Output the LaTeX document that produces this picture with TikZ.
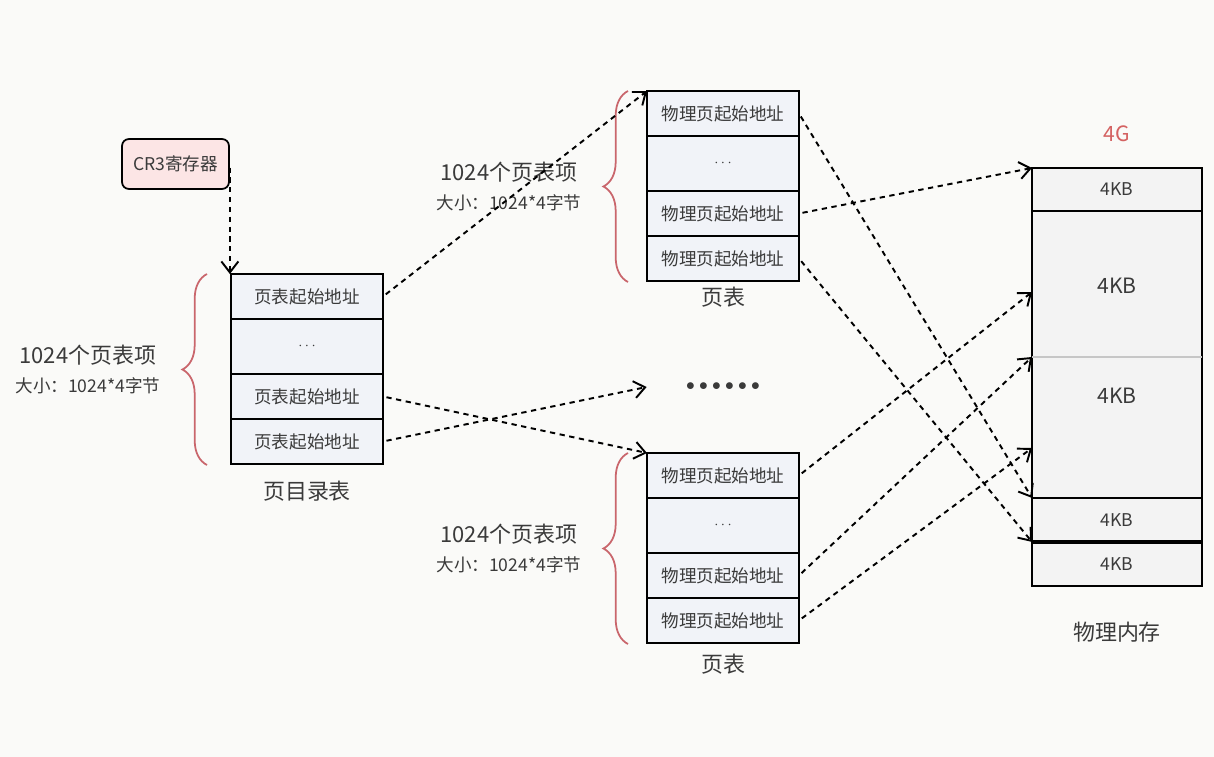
\documentclass[tikz,border=0pt]{standalone}
\usepackage{fontspec}
\setmainfont{Noto Sans CJK SC}
\usetikzlibrary{arrows.meta,positioning,decorations.pathreplacing,calc}
\definecolor{cbrace}{RGB}{201,102,108}
\definecolor{ccr}{RGB}{252,229,229}
\definecolor{crow}{RGB}{241,243,248}
\definecolor{cmem}{RGB}{243,243,243}
\definecolor{ctext}{RGB}{58,58,58}
\definecolor{cred}{RGB}{212,98,98}
\definecolor{cbg}{RGB}{250,250,248}

\begin{document}
\begin{tikzpicture}[x=0.02cm,y=-0.02cm,font=\fontsize{10}{12}\selectfont,text=ctext,
  >={Straight Barb[length=2.2mm,width=3.4mm]},
  row/.style={draw,line width=1pt,fill=crow,minimum width=3.04cm,minimum height=0.9cm,inner sep=0pt,outer sep=0pt},
  gaprow/.style={row,minimum height=1.1cm,font=\fontsize{8.5}{10}\selectfont},
  mem/.style={draw,line width=1pt,fill=cmem,minimum width=3.4cm,inner sep=0pt,outer sep=0pt},
  link/.style={->,line width=1.1pt,dash pattern=on 3pt off 2.6pt,shorten <=2pt},
  curly/.style={cbrace,line width=1pt,decorate,decoration={brace,amplitude=14pt}},
  note/.style={align=center,text=ctext,font=\fontsize{12.5}{16}\selectfont},
  caption/.style={font=\fontsize{12.5}{15}\selectfont}]
  \fill[cbg] (0,0) rectangle (1214,757);
  % CR3
  \node[draw,line width=1pt,rounded corners=4pt,fill=ccr,minimum width=2.14cm,minimum height=1cm] (cr3) at (175.5,164) {CR3寄存器};
  % page directory
  \node[row] (pd1) at (307,296.5) {页表起始地址};
  \node[gaprow,below=0pt of pd1] (pd2) {$\cdots$};
  \node[row,below=0pt of pd2] (pd3) {页表起始地址};
  \node[row,below=0pt of pd3] (pd4) {页表起始地址};
  \node[caption,below=0.22cm of pd4] (pdcap) {页目录表};
  \draw[curly] (207,465) -- (207,274)
    node[note,midway,left=0.8cm] (pdnote) {1024个页表项\\{\fontsize{10}{12}\selectfont 大小：1024*4字节}};
  % page table (top)
  \node[row] (pt1a) at (723,113.5) {物理页起始地址};
  \node[gaprow,below=0pt of pt1a] (pt1b) {$\cdots$};
  \node[row,below=0pt of pt1b] (pt1c) {物理页起始地址};
  \node[row,below=0pt of pt1c] (pt1d) {物理页起始地址};
  \node[caption,below=0pt of pt1d] (pt1cap) {页表};
  \draw[curly] (628,282) -- (628,91)
    node[note,midway,left=0.8cm] (pt1note) {1024个页表项\\{\fontsize{10}{12}\selectfont 大小：1024*4字节}};
  % page table (bottom)
  \node[row] (pt2a) at (723,475.5) {物理页起始地址};
  \node[gaprow,below=0pt of pt2a] (pt2b) {$\cdots$};
  \node[row,below=0pt of pt2b] (pt2c) {物理页起始地址};
  \node[row,below=0pt of pt2c] (pt2d) {物理页起始地址};
  \node[caption,below=0.1cm of pt2d] (pt2cap) {页表};
  \draw[curly] (628,644) -- (628,453)
    node[note,midway,left=0.8cm] (pt2note) {1024个页表项\\{\fontsize{10}{12}\selectfont 大小：1024*4字节}};
  \node[minimum width=3.04cm,font=\fontsize{10}{12}\selectfont] (dots) at (723,387)
    {${\bullet}\hspace{2.4pt}{\bullet}\hspace{2.4pt}{\bullet}\hspace{2.4pt}{\bullet}\hspace{2.4pt}{\bullet}\hspace{2.4pt}{\bullet}$};
  % physical memory
  \node[mem,minimum height=0.86cm] (m1) at (1117,189.5) {4KB};
  \node[mem,minimum height=5.74cm,below=0pt of m1] (mbig) {};
  \node[mem,minimum height=0.88cm,below=0pt of mbig] (m4) {4KB};
  \node[mem,minimum height=0.88cm,below=0pt of m4] (m5) {4KB};
  \draw[line width=2pt] (m5.north west) -- (m5.north east);
  \coordinate (msplit) at ($(mbig.north west)+(0,146)$);
  \coordinate (mA) at ($(mbig.north west)+(0,81)$);
  \coordinate (mC) at ($(mbig.north west)+(0,237)$);
  \draw[gray!45,line width=0.6pt] (msplit) -- (msplit -| mbig.east);
  \node[font=\fontsize{12}{14}\selectfont] (kb2) at ($(mbig.north)+(0,75)$) {4KB};
  \node[font=\fontsize{12}{14}\selectfont] (kb3) at ($(mbig.north)+(0,185)$) {4KB};
  \node[text=cred,font=\fontsize{12}{14}\selectfont,above=0.4cm of m1] (top4g) {4G};
  \node[caption,below=0.6cm of m5] (memcap) {物理内存};
  % links
  \draw[link] (cr3.east) -- (cr3.east |- pd1.north);
  \draw[link] (pd1.east) -- (pt1a.north west);
  \draw[link] (pd3.east) -- (pt2a.north west);
  \draw[link] (pd4.east) -- (dots.west);
  \draw[link] (pt1c.east) -- (m1.north west);
  \draw[link] (pt1a.east) -- (mbig.south west);
  \draw[link] (pt1d.east) -- (m4.south west);
  \draw[link] (pt2a.east) -- (mA);
  \draw[link] (pt2c.east) -- (msplit);
  \draw[link] (pt2d.east) -- (mC);
\end{tikzpicture}
\end{document}
